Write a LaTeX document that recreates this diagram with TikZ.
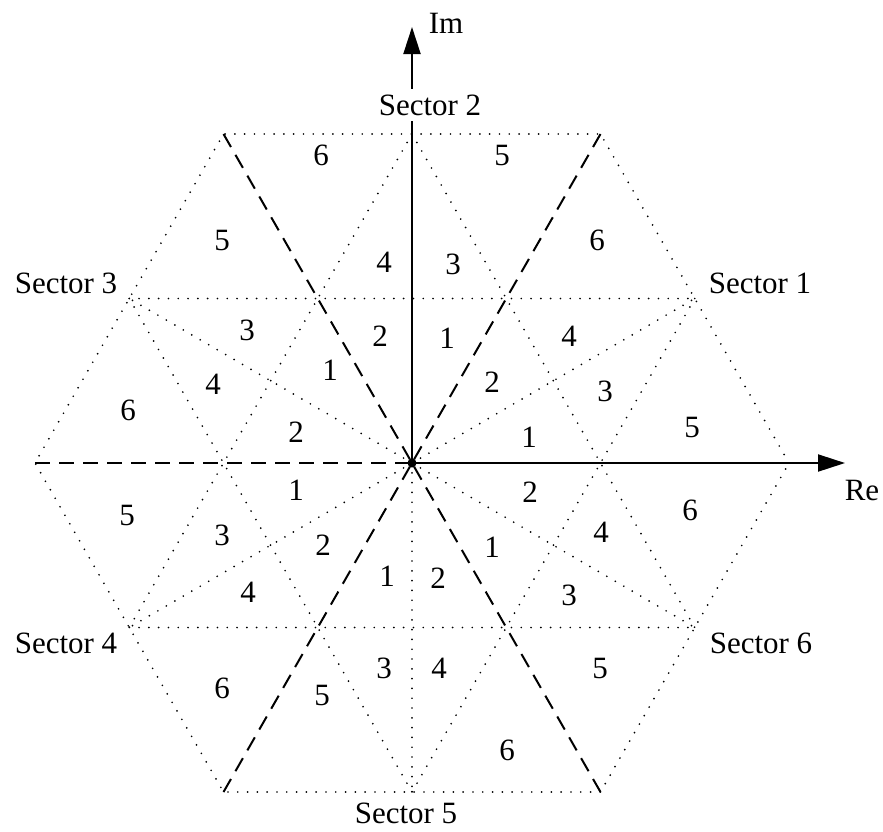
\documentclass[tikz,border=0pt]{standalone}
\usepackage{fontspec}
\setmainfont{Liberation Serif}
\usetikzlibrary{arrows.meta,calc}
\begin{document}
\begin{tikzpicture}[x=1pt,y=-1pt,
  dotline/.style={line width=1.9pt, dash pattern=on 0pt off 9.8pt, line cap=round},
  dashline/.style={line width=2pt, dash pattern=on 15pt off 9pt},
  axis/.style={line width=2pt, -{Triangle[length=27pt,width=17pt]}},
  lbl/.style={inner sep=0pt, font=\fontsize{31}{36}\selectfont}]
\useasboundingbox (0,0) rectangle (883,831);
% large vectors (hexagon vertices)
\coordinate (O) at (412,463);
\coordinate (L0) at (789,463);
\coordinate (L60) at (600.5,134);
\coordinate (L120) at (223.5,134);
\coordinate (L180) at (35,463);
\coordinate (L240) at (223.5,792);
\coordinate (L300) at (600.5,792);
% medium vectors (edge midpoints)
\coordinate (M30) at ($(L0)!0.5!(L60)$);
\coordinate (M90) at ($(L60)!0.5!(L120)$);
\coordinate (M150) at ($(L120)!0.5!(L180)$);
\coordinate (M210) at ($(L180)!0.5!(L240)$);
\coordinate (M270) at ($(L240)!0.5!(L300)$);
\coordinate (M330) at ($(L300)!0.5!(L0)$);
\coordinate (imtip) at (412,27);
\coordinate (retip) at (845,463);
% dotted lines
\draw[dotline] (L0) -- (L60) -- (L120) -- (L180) -- (L240) -- (L300) -- cycle;
\draw[dotline] (M150) -- (M30);
\draw[dotline] (M210) -- (M330);
\draw[dotline] (M90) -- (M330);
\draw[dotline] (M150) -- (M270);
\draw[dotline] (M90) -- (M210);
\draw[dotline] (M30) -- (M270);
\draw[dotline] (O) -- (M30);
\draw[dotline] (O) -- (M150);
\draw[dotline] (O) -- (M210);
\draw[dotline] (O) -- (M270);
\draw[dotline] (O) -- (M330);
% dashed sector boundaries
\draw[dashline] (L60) -- (O);
\draw[dashline] (L120) -- (O);
\draw[dashline] (L180) -- (O);
\draw[dashline] (L240) -- (O);
\draw[dashline] (L300) -- (O);
% axes
\draw[axis] (O) -- (retip);
\draw[axis] (O) -- (imtip);
\fill (O) circle (4.5);
\node[lbl] (im) at (446,23.5) {Im};
\node[lbl] (re) at (862,490) {Re};
\node[lbl] (sec1) at (760,283) {Sector 1};
\node[lbl, fill=white, inner ysep=6pt, inner xsep=2pt] (sec2) at (430,105) {Sector 2};
\node[lbl] (sec3) at (66,283) {Sector 3};
\node[lbl] (sec4) at (66,643) {Sector 4};
\node[lbl] (sec5) at (406,813) {Sector 5};
\node[lbl] (sec6) at (761,643) {Sector 6};
% region numbers
\foreach \x/\y/\t/\n in {
  529/437/1/a1, 492/382/2/a2, 605/391/3/a3, 569/336/4/a4, 692/427/5/a5, 597/240/6/a6,
  447/338/1/b1, 380/336/2/b2, 453/264/3/b3, 384/262/4/b4, 502/155/5/b5, 321/155/6/b6,
  330/370/1/c1, 296/432/2/c2, 247/330/3/c3, 213/384/4/c4, 222/240/5/c5, 128/410/6/c6,
  296/490/1/d1, 323/545/2/d2, 222/535/3/d3, 248/592/4/d4, 127/515/5/d5, 222/688/6/d6,
  387/576/1/e1, 438/578/2/e2, 384/668/3/e3, 439/668/4/e4, 322/695/5/e5, 507/750/6/e6,
  492/547/1/f1, 530/492/2/f2, 569/595/3/f3, 601/532/4/f4, 600/668/5/f5, 690/510/6/f6}
  {\node[lbl] (\n) at (\x,\y) {\t};}
\end{tikzpicture}
\end{document}
